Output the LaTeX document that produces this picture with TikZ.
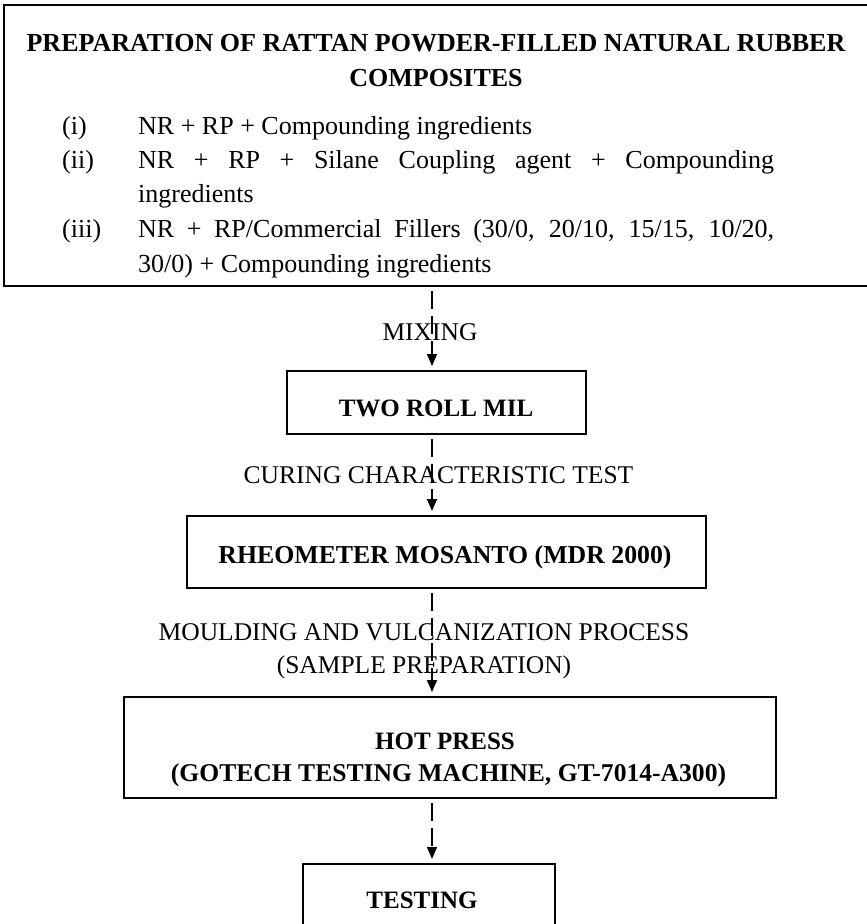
\documentclass[tikz,border=0pt]{standalone}
\usepackage{fontspec}
\setmainfont{Liberation Serif}
\usetikzlibrary{arrows.meta}
\begin{document}
\begin{tikzpicture}[x=1pt,y=-1pt,
  boxnode/.style={draw, line width=2.9pt, inner sep=0pt, outer sep=0pt},
  titletxt/.style={font=\fontsize{26}{30}\selectfont\bfseries, inner sep=0pt, anchor=base},
  bodytxt/.style={font=\fontsize{26}{30}\selectfont, inner sep=0pt, anchor=base west},
  boxtxt/.style={font=\fontsize{25}{30}\selectfont\bfseries, inner sep=0pt, anchor=base},
  flowlabel/.style={font=\fontsize{25.5}{30}\selectfont, inner sep=0pt, anchor=base},
  flow/.style={line width=1.6pt, dash pattern=on 18pt off 7pt,
    -{Triangle[length=12pt,width=10pt]}, shorten <=5pt, shorten >=5pt}]
\useasboundingbox (0,0) rectangle (867,924);
\clip (0,0) rectangle (867,924);
\fill[white] (0,0) rectangle (867,924);

% axis of the connectors
\coordinate (ax) at (432,0);

% boxes
\node[boxnode, minimum width=868pt, minimum height=281pt] (prep) at (438,145.5) {};
\node[boxnode, minimum width=299pt, minimum height=63pt] (roll) at (436.5,402.5) {};
\node[boxnode, minimum width=519pt, minimum height=72pt] (rheo) at (446.5,552) {};
\node[boxnode, minimum width=652pt, minimum height=101pt] (hot) at (450,747.5) {};
\node[boxnode, minimum width=252pt, minimum height=80pt] (test) at (429,904) {};

% texts of the top box
\node[titletxt] (t1) at (436,51.6) {PREPARATION OF RATTAN POWDER-FILLED NATURAL RUBBER};
\node[titletxt] (t2) at (436,86) {COMPOSITES};
\node[bodytxt] (n1) at (62,134) {(i)};
\node[bodytxt] (l1) at (138,134) {NR + RP + Compounding ingredients};
\node[bodytxt] (n2) at (62,168.5) {(ii)};
\node[bodytxt] (l2) at (138,168.5) {\makebox[636pt][s]{NR + RP + Silane Coupling agent + Compounding}};
\node[bodytxt] (l2b) at (138,202) {ingredients};
\node[bodytxt] (n3) at (62,237) {(iii)};
\node[bodytxt] (l3) at (138,237) {\makebox[636pt][s]{NR + RP/Commercial Fillers (30/0, 20/10, 15/15, 10/20,}};
\node[bodytxt] (l3b) at (138,272) {30/0) + Compounding ingredients};

% box texts
\node[boxtxt] (rollt) at (436,416.5) {TWO ROLL MIL};
\node[boxtxt, font=\fontsize{25.8}{30}\selectfont\bfseries] (rheot) at (445,563.5) {RHEOMETER MOSANTO (MDR 2000)};
\node[boxtxt] (hott1) at (445,749) {HOT PRESS};
\node[boxtxt, font=\fontsize{25.6}{30}\selectfont\bfseries] (hott2) at (448.5,781) {(GOTECH TESTING MACHINE, GT-7014-A300)};
\node[boxtxt] (testt) at (422,908.5) {TESTING};

% connector labels
\node[flowlabel] (lab1) at (430,340.5) {MIXING};
\node[flowlabel] (lab2) at (438.5,483.5) {CURING CHARACTERISTIC TEST};
\node[flowlabel] (lab3) at (424,640.5) {MOULDING AND VULCANIZATION PROCESS};
\node[flowlabel] (lab4) at (424,673.5) {(SAMPLE PREPARATION)};

% connectors
\draw[flow] (prep.south -| ax) -- (roll.north -| ax);
\draw[flow] (roll.south -| ax) -- (rheo.north -| ax);
\draw[flow] (rheo.south -| ax) -- (hot.north -| ax);
\draw[flow] (hot.south -| ax) -- (test.north -| ax);
\end{tikzpicture}
\end{document}
